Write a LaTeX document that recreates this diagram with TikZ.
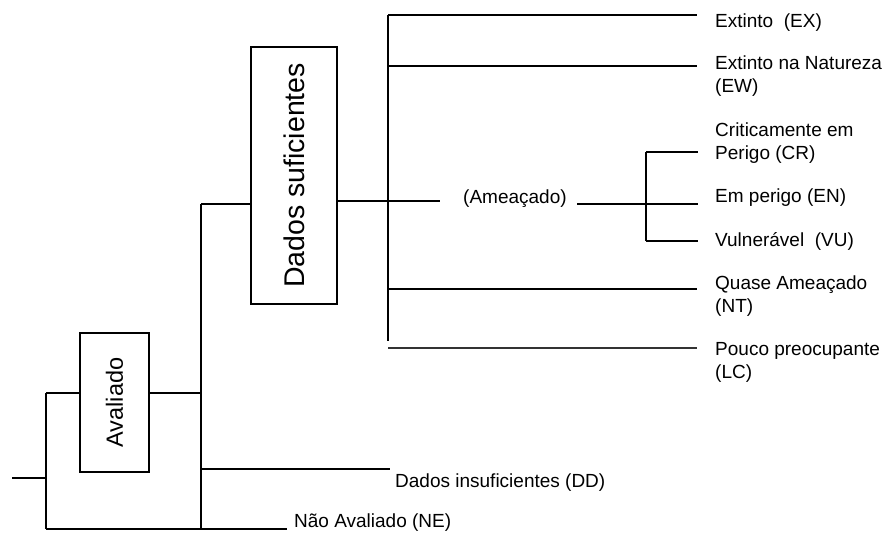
\documentclass[tikz,border=0pt]{standalone}
\usepackage{fontspec}
\setmainfont{Liberation Sans}
\begin{document}
\begin{tikzpicture}[x=1pt,y=-1pt,
  wire/.style={line width=1.8pt, black},
  faintwire/.style={line width=1.8pt, black!80},
  catbox/.style={draw, line width=1.8pt, rotate=90, inner sep=0pt, font=\fontsize{23.5}{27}\selectfont},
  lbl/.style={anchor=base west, inner sep=0pt, align=left, font=\fontsize{19}{22.5}\selectfont}]
\useasboundingbox (0,0) rectangle (883,533);

% category boxes (text reads bottom to top)
\node[catbox, minimum width=139pt, minimum height=69pt] (aval) at (114.5,402.5) {Avaliado};
\node[catbox, font=\fontsize{28.5}{32}\selectfont, minimum width=257pt, minimum height=86pt] (dsuf) at (294,175.5) {Dados suficientes};

% leaf labels (anchored on the baseline of their last line)
\node[lbl] (ex)  at (715,27)  {Extinto\ \ (EX)};
\node[lbl] (ew)  at (715,92)  {Extinto na Natureza\\(EW)};
\node[lbl] (cr)  at (715,159) {Criticamente em\\Perigo (CR)};
\node[lbl] (en)  at (715,202) {Em perigo (EN)};
\node[lbl] (vu)  at (715,246) {Vulnerável\ \ (VU)};
\node[lbl] (nt)  at (715,312) {Quase Ameaçado\\(NT)};
\node[lbl] (lc)  at (715,378) {Pouco preocupante\\(LC)};
\node[lbl] (ame) at (463,203) {(Ameaçado)};
\node[lbl] (dd)  at (395,487) {Dados insuficientes (DD)};
\node[lbl] (ne)  at (294,527) {Não Avaliado (NE)};

% junction points and line ends
\coordinate (in)   at (12,478);
\coordinate (j1)   at (46,478);
\coordinate (j1t)  at (46,393);
\coordinate (j1b)  at (46,529);
\coordinate (neE)  at (287,529);
\coordinate (j2t)  at (201,204);
\coordinate (j2m)  at (201,393);
\coordinate (j2d)  at (201,469);
\coordinate (j2b)  at (201,529);
\coordinate (ddE)  at (390,469);
\coordinate (j3t)  at (388,15);
\coordinate (j3w)  at (388,66);
\coordinate (j3m)  at (388,201);
\coordinate (j3n)  at (388,289);
\coordinate (j3b)  at (388,341);
\coordinate (lcS)  at (388,348);
\coordinate (exE)  at (697,15);
\coordinate (ewE)  at (697,66);
\coordinate (ntE)  at (697,289);
\coordinate (lcE)  at (697,348);
\coordinate (ameW) at (440,201);
\coordinate (ameE) at (577,204);
\coordinate (j4t)  at (646,152);
\coordinate (j4m)  at (646,204);
\coordinate (j4b)  at (646,241);
\coordinate (crE)  at (698,152);
\coordinate (enE)  at (698,204);
\coordinate (vuE)  at (698,241);

% first split: evaluated / not evaluated
\draw[wire] (in) -- (j1);
\draw[wire] (j1t) -- (j1b);
\draw[wire] (j1t) -- (j1t -| aval.north);
\draw[wire] (j1b) -- (neE);

% second split: sufficient / insufficient data
\draw[wire] (j1t -| aval.south) -- (j2m);
\draw[wire] (j2t) -- (j2b);
\draw[wire] (j2t) -- (j2t -| dsuf.north);
\draw[wire] (j2d) -- (ddE);

% categories with sufficient data
\draw[wire] (j3m -| dsuf.south) -- (j3m);
\draw[wire] (j3t) -- (j3b);
\draw[wire] (j3t) -- (exE);
\draw[wire] (j3w) -- (ewE);
\draw[wire] (j3n) -- (ntE);
\draw[faintwire] (lcS) -- (lcE);

% threatened group
\draw[wire] (j3m) -- (ameW);
\draw[wire] (ameE) -- (enE);
\draw[wire] (j4t) -- (j4b);
\draw[wire] (j4t) -- (crE);
\draw[wire] (j4b) -- (vuE);
\end{tikzpicture}
\end{document}
